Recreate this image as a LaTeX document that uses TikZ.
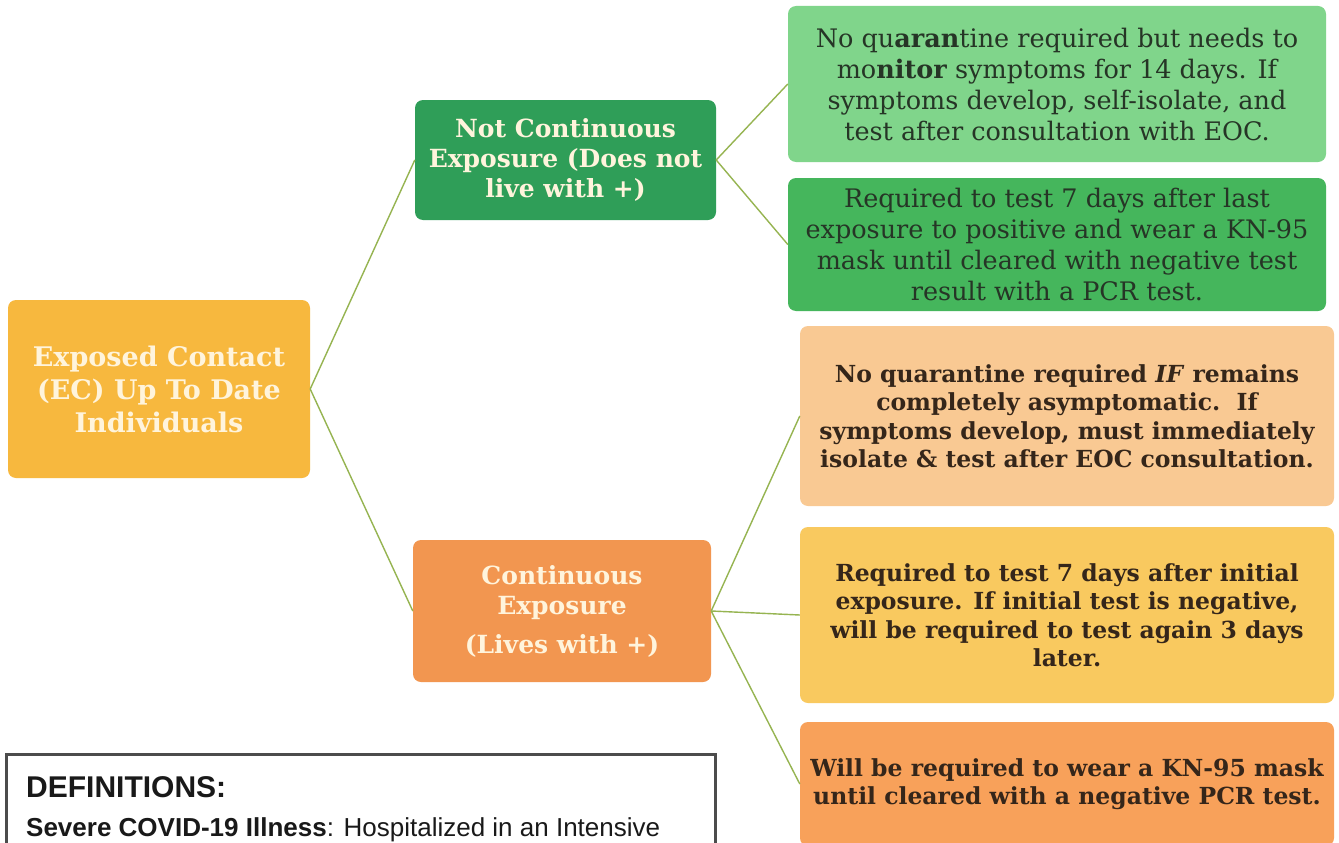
\documentclass[tikz,border=0pt]{standalone}
\usepackage{fontspec}
\setmainfont{DejaVu Serif}
\newfontfamily\defsans{Liberation Sans}
\definecolor{cYellow}{HTML}{F7B83E}
\definecolor{cGreenD}{HTML}{2F9E58}
\definecolor{cOrange}{HTML}{F29650}
\definecolor{cGreenL}{HTML}{80D58B}
\definecolor{cGreenM}{HTML}{45B65C}
\definecolor{cPeach}{HTML}{F9C993}
\definecolor{cGold}{HTML}{F9C95F}
\definecolor{cOrangeL}{HTML}{F8A15A}
\definecolor{cLine}{HTML}{96B451}
\definecolor{cTextG}{HTML}{263526}
\definecolor{cTextB}{HTML}{35261A}
\definecolor{cCream}{HTML}{FFF4DC}
\begin{document}
\begin{tikzpicture}[x=1pt,y=-1pt,
  box/.style={rounded corners=8pt, draw=none, inner sep=0pt, align=center},
  conn/.style={draw=cLine, line width=1.4pt},
  headtxt/.style={font=\bfseries\fontsize{25}{30}\selectfont, text=cCream},
  gtxt/.style={font=\fontsize{25.5}{31}\selectfont, text=cTextG},
  otxt/.style={font=\bfseries\fontsize{23.5}{28.5}\selectfont, text=cTextB}]
\useasboundingbox (0,0) rectangle (1339,843);
\clip (0,0) rectangle (1339,843);
\fill[white] (0,0) rectangle (1339,843);

\node[box, fill=cYellow, minimum width=302pt, minimum height=178pt, headtxt,
  font=\bfseries\fontsize{27}{33}\selectfont] (ec) at (159,389)
  {Exposed Contact\\(EC) Up To Date\\Individuals};
\node[box, fill=cGreenD, minimum width=301pt, minimum height=120pt, headtxt] (nc) at (565.5,160)
  {Not Continuous\\Exposure (Does not\\live with +)};
\node[box, fill=cOrange, minimum width=298pt, minimum height=142pt, headtxt] (ce) at (562,611)
  {Continuous\\Exposure\\[9pt](Lives with +)};

\node[box, fill=cGreenL, minimum width=538pt, minimum height=156pt, gtxt] (b1) at (1057,84)
  {No qu\textbf{aran}tine required but needs to\\mo\textbf{nitor} symptoms for 14 days. If\\symptoms develop, self-isolate, and\\test after consultation with EOC.};
\node[box, fill=cGreenM, minimum width=538pt, minimum height=133pt, gtxt] (b2) at (1057,244.5)
  {Required to test 7 days after last\\exposure to positive and wear a KN-95\\mask until cleared with negative test\\result with a PCR test.};
\node[box, fill=cPeach, minimum width=534pt, minimum height=180pt, otxt] (b3) at (1067,416)
  {No quarantine required \textit{IF} remains\\completely asymptomatic.\ \ If\\symptoms develop, must immediately\\isolate \& test after EOC consultation.};
\node[box, fill=cGold, minimum width=534pt, minimum height=176pt, otxt] (b4) at (1067,615)
  {Required to test 7 days after initial\\exposure. If initial test is negative,\\will be required to test again 3 days\\later.};
\node[box, fill=cOrangeL, minimum width=534pt, minimum height=124pt, otxt] (b5) at (1067,784)
  {Will be required to wear a KN-95 mask\\until cleared with a negative PCR test.};

\draw[conn] (ec.east) -- (nc.west);
\draw[conn] (ec.east) -- (ce.west);
\draw[conn] (nc.east) -- (b1.west);
\draw[conn] (nc.east) -- (b2.west);
\draw[conn] (ce.east) -- (b3.west);
\draw[conn] (ce.east) -- (b4.west);
\draw[conn] (ce.east) -- (b5.west);

\node[draw=black!70, line width=2.5pt, minimum width=709pt, minimum height=130pt, anchor=north west, inner sep=0pt] (defs) at (5,753) {};
\node[anchor=base west, inner sep=0pt, font=\defsans\bfseries\fontsize{30}{33}\selectfont, text=black!90] (dh) at (26,797)
  {DEFINITIONS:};
\node[anchor=base west, inner sep=0pt, font=\defsans\fontsize{26}{29}\selectfont, text=black!90] (dl) at (26,836)
  {\textbf{Severe COVID-19 Illness}: Hospitalized in an Intensive};
\end{tikzpicture}
\end{document}
